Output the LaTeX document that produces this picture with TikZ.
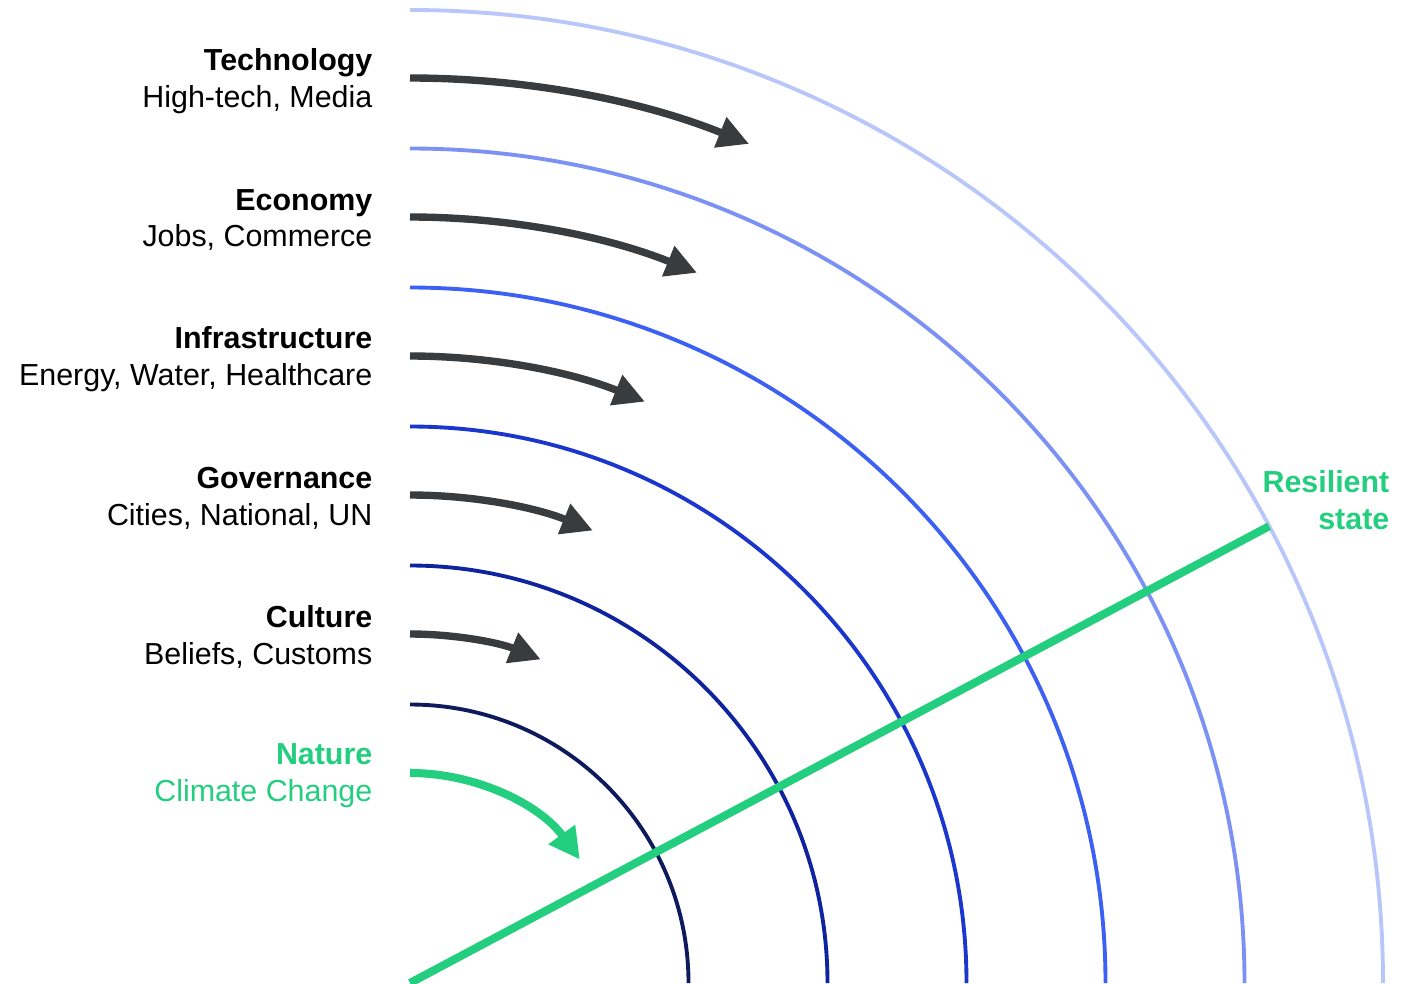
\documentclass[tikz,border=0pt]{standalone}
\usepackage{fontspec}
\setmainfont{Liberation Sans}
\usetikzlibrary{arrows.meta}
\definecolor{ringA}{HTML}{0E1A5C}
\definecolor{ringB}{HTML}{10239E}
\definecolor{ringC}{HTML}{1A36CC}
\definecolor{ringD}{HTML}{3D60F4}
\definecolor{ringE}{HTML}{7B92F4}
\definecolor{ringF}{HTML}{B9C6FA}
\definecolor{leaf}{HTML}{24CE7F}
\definecolor{slate}{HTML}{383C3F}
\tikzset{
	ring/.style={line width=1.1pt},
	flow/.style={line width=2.1pt, color=slate, -{Triangle[length=3.1mm, width=3.1mm]}},
	tag/.style={anchor=east, align=right, inner sep=0pt, font=\fontsize{8.65}{10.5}\selectfont}
}

\begin{document}
\begin{tikzpicture}
		%%%%% FRAME %%%%%
		\useasboundingbox (-4.10, 0) rectangle (9.96, 9.83);
		
		%%%%% RINGS %%%%%
		\draw[ring, color=ringA] (0, 2.785) arc (90:0:2.785);
		\draw[ring, color=ringB] (0, 4.175) arc (90:0:4.175);
		\draw[ring, color=ringC] (0, 5.565) arc (90:0:5.565);
		\draw[ring, color=ringD] (0, 6.955) arc (90:0:6.955);
		\draw[ring, color=ringE] (0, 8.345) arc (90:0:8.345);
		\draw[ring, color=ringF] (0, 9.73) arc (90:0:9.73);
		
		%%%%% ARROWS %%%%%
		\draw[flow] (0, 9.05) arc (90:68:9.05);
		\draw[flow] (0, 7.66) arc (90:68:7.66);
		\draw[flow] (0, 6.27) arc (90:68:6.27);
		\draw[flow] (0, 4.88) arc (90:68:4.88);
		\draw[flow] (0, 3.49) arc (90:68:3.49);
		\draw[flow, color=leaf, line width=2.3pt] (0, 2.10) arc (90:36:2.10);
		
		%%%%% RESILIENCE LINE %%%%%
		\draw[line width=2.3pt, color=leaf] (0, 0) -- (28:9.73);
		
		%%%%% LABELS %%%%%
		\node[tag] (tech) at (-0.37, 9.02) {\textbf{Technology}\\High-tech, Media};
		\node[tag] (econ) at (-0.37, 7.63) {\textbf{Economy}\\Jobs, Commerce};
		\node[tag] (infra) at (-0.37, 6.24) {\textbf{Infrastructure}\\Energy, Water, Healthcare};
		\node[tag] (gov) at (-0.37, 4.85) {\textbf{Governance}\\Cities, National, UN};
		\node[tag] (cult) at (-0.37, 3.46) {\textbf{Culture}\\Beliefs, Customs};
		\node[tag, text=leaf] (nature) at (-0.37, 2.07) {\textbf{Nature}\\Climate Change};
		\node[tag, text=leaf] (resil) at (9.80, 4.83) {\textbf{Resilient}\\\textbf{state}};
		
	\end{tikzpicture}
\end{document}
